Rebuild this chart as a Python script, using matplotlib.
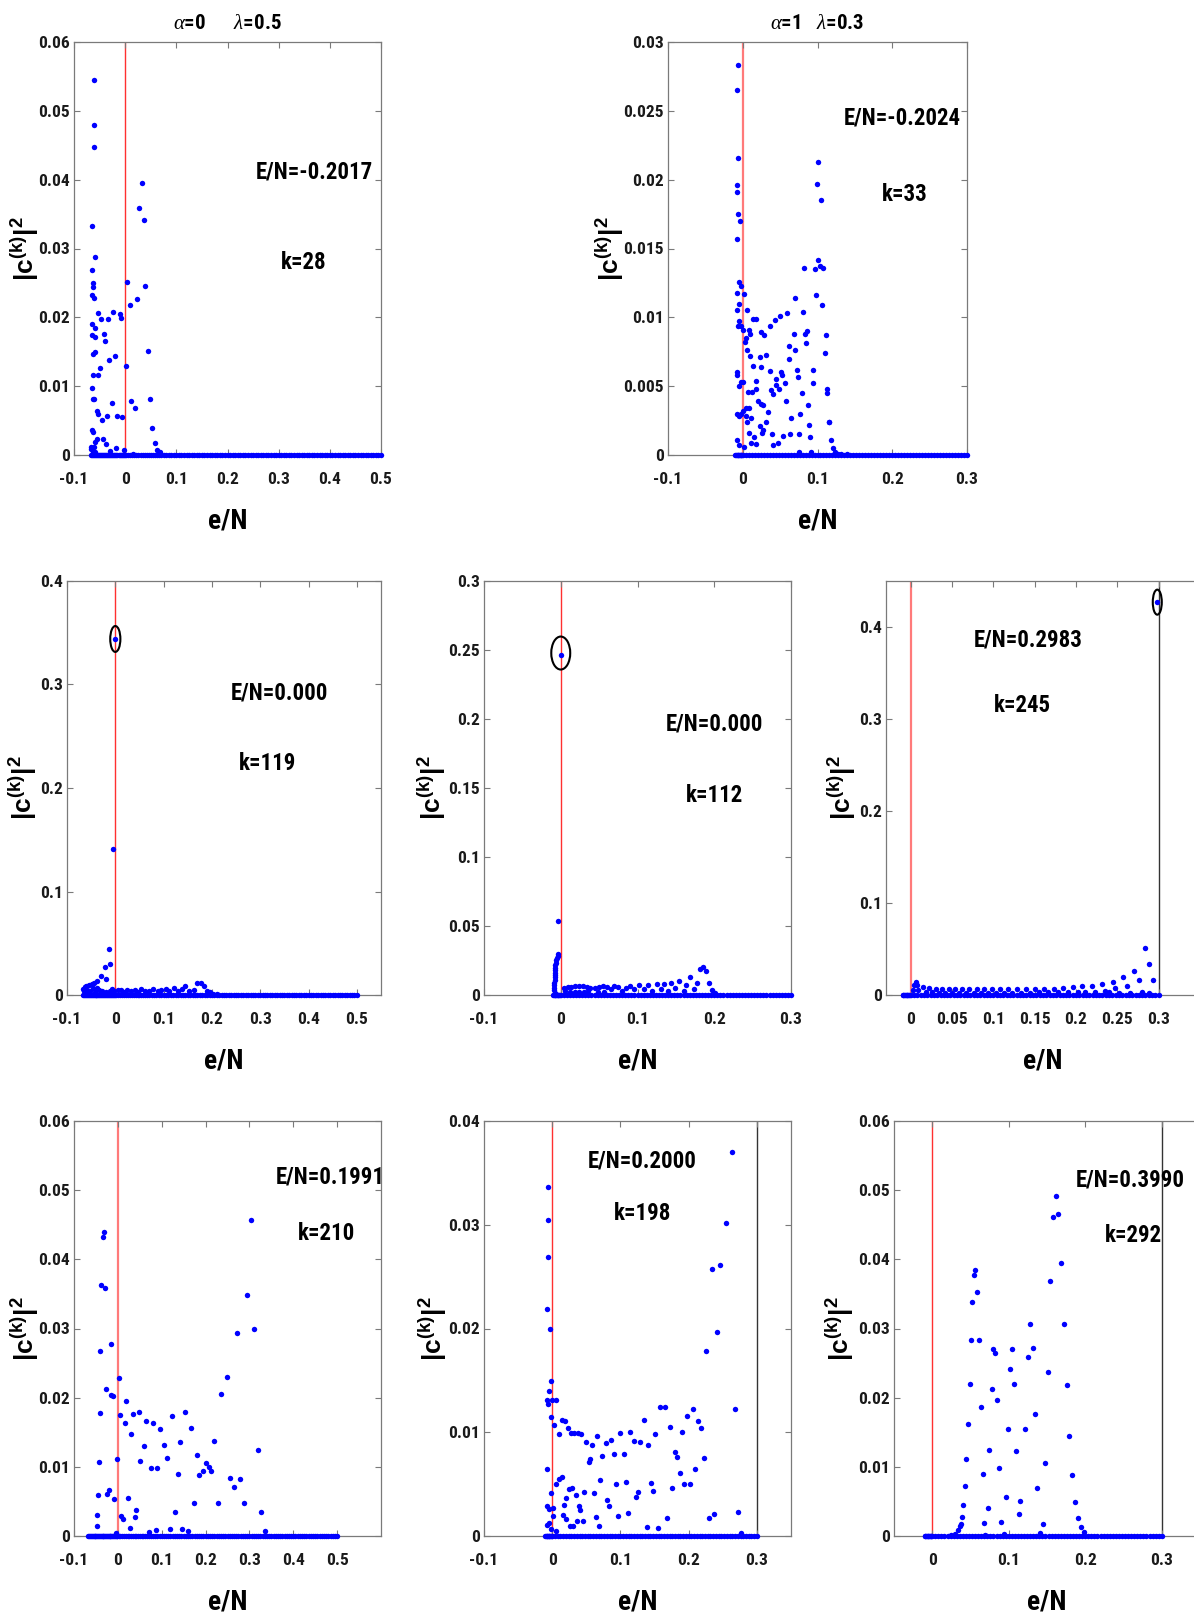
import numpy as np
import matplotlib
matplotlib.use("Agg")
import matplotlib.pyplot as plt
from matplotlib import font_manager
from matplotlib.patches import Ellipse
from matplotlib.ticker import FuncFormatter, FixedLocator

# ---------------------------------------------------------------- fonts
# prefer a narrow sans face; fall back to Liberation Sans with smaller sizes
_entries = font_manager.fontManager.ttflist
_narrow = [f for f in _entries
           if f.stretch in ('condensed', 'semi-condensed', 'extra-condensed')
           and not any(w in f.name for w in ('Mono', 'Serif', 'CJK'))]
_narrow_names = {f.name: f.stretch for f in _narrow}
SANS, STRETCH, SZ = 'Liberation Sans', 'normal', 0.86
for cand in ('Liberation Sans Narrow', 'Roboto Condensed', 'Open Sans Condensed',
             'Noto Sans', 'DejaVu Sans', 'Noto Sans Condensed', 'DejaVu Sans Condensed'):
    if cand in _narrow_names:
        SANS, STRETCH, SZ = cand, _narrow_names[cand], 1.0
        break
else:
    if _narrow_names:
        SANS, STRETCH = next(iter(_narrow_names.items()))
        SZ = 1.0

plt.rcParams['font.family'] = [SANS, 'DejaVu Sans']
plt.rcParams['font.stretch'] = STRETCH
plt.rcParams['mathtext.fontset'] = 'custom'
plt.rcParams['mathtext.rm'] = SANS
# the vertical axis label is the only bold math text; it runs vertically and uses a full-width face
plt.rcParams['mathtext.bf'] = 'Liberation Sans:bold'
plt.rcParams['mathtext.it'] = 'Liberation Serif:italic'

# ---------------------------------------------------------------- data
# unperturbed spectra e/N
levels_a = [-0.067, -0.065, -0.063, -0.061, -0.059, -0.057, -0.055, -0.053, -0.051, -0.049,
            -0.047, -0.045, -0.043, -0.041, -0.039, -0.037, -0.035, -0.033, -0.031, -0.029,
            -0.027, -0.025, -0.023, -0.021, -0.019, -0.017, -0.015, -0.013, -0.011, -0.009,
            -0.007, -0.005, -0.003, -0.001,
            0.002, 0.006, 0.010, 0.014, 0.018, 0.022, 0.026, 0.030, 0.034, 0.038, 0.042, 0.046,
            0.050, 0.054, 0.058, 0.062, 0.066, 0.070, 0.075, 0.080, 0.085, 0.090, 0.095, 0.100,
            0.105, 0.110, 0.115, 0.120, 0.125, 0.130, 0.135, 0.140, 0.145, 0.150, 0.155, 0.160,
            0.165, 0.170, 0.175, 0.180, 0.185, 0.190, 0.195, 0.200, 0.205, 0.210, 0.215, 0.220,
            0.225, 0.230, 0.235, 0.240, 0.245, 0.250, 0.255, 0.260, 0.265, 0.270, 0.275, 0.280,
            0.285, 0.290, 0.295, 0.300, 0.305, 0.310, 0.315, 0.320, 0.325, 0.330, 0.335, 0.340,
            0.345, 0.350, 0.355, 0.360, 0.365, 0.370, 0.375, 0.380, 0.385, 0.390, 0.395, 0.400,
            0.405, 0.410, 0.415, 0.420, 0.425, 0.430, 0.435, 0.440, 0.445, 0.450, 0.455, 0.460,
            0.465, 0.470, 0.475, 0.480, 0.485, 0.490, 0.495, 0.500]
levels_b = [-0.010, -0.009, -0.008, -0.007, -0.006, -0.005, -0.004, -0.003, -0.002, -0.001, 0.000,
            0.004, 0.008, 0.012, 0.016, 0.020, 0.024, 0.028, 0.032, 0.036, 0.040, 0.044, 0.048,
            0.052, 0.056, 0.060, 0.064, 0.068, 0.072, 0.076, 0.080, 0.084, 0.088, 0.092, 0.096,
            0.100, 0.104, 0.108, 0.112, 0.116, 0.120, 0.124, 0.128, 0.132, 0.136, 0.140, 0.144,
            0.148, 0.152, 0.156, 0.160, 0.164, 0.168, 0.172, 0.176, 0.180, 0.184, 0.188, 0.192,
            0.196, 0.200, 0.204, 0.208, 0.212, 0.216, 0.220, 0.224, 0.228, 0.232, 0.236, 0.240,
            0.244, 0.248, 0.252, 0.256, 0.260, 0.264, 0.268, 0.272, 0.276, 0.280, 0.284, 0.288,
            0.292, 0.296, 0.300]

# (e/N, |c^(k)|^2) for the non-negligible components of each eigenstate
k28 = [(-0.060, 0.0545), (-0.061, 0.0479), (-0.060, 0.0448), (-0.064, 0.0332), (-0.065, 0.0269),
       (-0.058, 0.0287), (-0.062, 0.0250), (-0.063, 0.0244), (-0.064, 0.0233), (-0.061, 0.0228),
       (-0.054, 0.0206), (-0.048, 0.0198), (-0.058, 0.0185), (-0.065, 0.0190), (-0.064, 0.0175),
       (-0.058, 0.0171), (-0.063, 0.0147), (-0.058, 0.0149), (-0.062, 0.0116), (-0.053, 0.0116),
       (-0.049, 0.0126), (-0.065, 0.0098), (-0.062, 0.0082), (-0.060, 0.0081), (-0.056, 0.0064),
       (-0.054, 0.0059), (-0.046, 0.0051), (-0.064, 0.0036), (-0.063, 0.0033), (-0.056, 0.0023),
       (-0.058, 0.0019), (-0.044, 0.0023), (-0.037, 0.0016), (-0.066, 0.0012), (-0.060, 0.0012),
       (-0.030, 0.0006), (-0.018, 0.0010), (-0.002, 0.0007), (-0.033, 0.0198), (-0.023, 0.0208),
       (-0.011, 0.0205), (-0.009, 0.0199), (-0.041, 0.0176), (-0.039, 0.0165), (-0.031, 0.0138),
       (-0.020, 0.0144), (-0.026, 0.0075), (-0.036, 0.0057), (-0.015, 0.0056), (-0.006, 0.0055),
       (0.001, 0.0129), (0.004, 0.0252), (0.009, 0.0218), (0.023, 0.0227), (0.012, 0.0079),
       (0.019, 0.0069), (0.027, 0.0359), (0.032, 0.0395), (0.036, 0.0341), (0.039, 0.0245),
       (0.045, 0.0151), (0.049, 0.0082), (0.053, 0.0039), (0.058, 0.0017), (0.063, 0.0007),
       (0.068, 0.0004), (0.016, 0.0002), (-0.066, 0.0008), (-0.063, 0.0005), (-0.059, 0.0004)]

k33 = [(-0.0068, 0.0283), (-0.0073, 0.0265), (-0.0068, 0.0216), (-0.0073, 0.0196), (-0.0073, 0.0191),
       (-0.0064, 0.0175), (-0.0041, 0.0170), (-0.0073, 0.0157), (-0.0050, 0.0126), (-0.0019, 0.0123),
       (-0.0077, 0.0118), (0.0017, 0.0117), (-0.0050, 0.0110), (-0.0073, 0.0105), (0.0052, 0.0105),
       (-0.0046, 0.0097), (-0.0060, 0.0094), (-0.0023, 0.0094), (0.0008, 0.0091), (0.0026, 0.0082),
       (0.0043, 0.0085), (0.0088, 0.0091), (0.0097, 0.0088), (0.0137, 0.0099), (0.0182, 0.0099),
       (0.0052, 0.0076), (0.0092, 0.0072), (0.0142, 0.0065), (-0.0073, 0.0060), (-0.0073, 0.0058),
       (-0.0046, 0.0050), (-0.0019, 0.0053), (0.0008, 0.0053), (0.0066, 0.0046), (0.0128, 0.0046),
       (0.0182, 0.0048), (0.0182, 0.0054), (0.0226, 0.0071), (0.0244, 0.0064), (0.0244, 0.0089),
       (0.0284, 0.0087), (0.0306, 0.0073), (0.0360, 0.0094), (0.0431, 0.0098), (0.0503, 0.0101),
       (0.0592, 0.0103), (0.0369, 0.0061), (0.0440, 0.0055), (0.0382, 0.0047), (0.0409, 0.0044),
       (0.0445, 0.0051), (0.0485, 0.0048), (0.0507, 0.0060), (0.0520, 0.0058), (0.0570, 0.0052),
       (0.0579, 0.0039), (0.0249, 0.0037), (0.0275, 0.0036), (0.0208, 0.0039), (0.0315, 0.0024),
       (0.0338, 0.0031), (0.0226, 0.0021), (0.0258, 0.0016), (0.0266, 0.0018), (0.0039, 0.0034),
       (0.0039, 0.0028), (0.0061, 0.0024), (0.0088, 0.0034), (0.0110, 0.0027), (0.0088, 0.0016),
       (0.0110, 0.0009), (0.0155, 0.0013), (0.0173, 0.0008), (-0.0077, 0.0030), (-0.0046, 0.0028),
       (-0.0019, 0.0030), (0.0008, 0.0032), (-0.0073, 0.0011), (-0.0055, 0.0007), (0.0021, 0.0006),
       (0.0387, 0.0015), (0.0405, 0.0007), (0.0471, 0.0009), (0.0538, 0.0014), (0.0636, 0.0015),
       (0.0748, 0.0015), (0.0650, 0.0027), (0.0623, 0.0070), (0.0618, 0.0079), (0.0681, 0.0088),
       (0.0695, 0.0076), (0.0721, 0.0062), (0.0735, 0.0057), (0.0703, 0.0114), (0.0757, 0.0002),
       (0.0770, 0.0030), (0.0788, 0.0045), (0.0806, 0.0104), (0.0833, 0.0088), (0.0851, 0.0081),
       (0.0855, 0.0090), (0.0873, 0.0036), (0.0886, 0.0022), (0.0904, 0.0013), (0.0908, 0.0002),
       (0.0940, 0.0062), (0.0935, 0.0052), (0.0824, 0.0136), (0.0962, 0.0135), (0.0975, 0.0116),
       (0.0993, 0.0197), (0.1007, 0.0213), (0.1042, 0.0185), (0.1007, 0.0142), (0.1038, 0.0137),
       (0.1070, 0.0136), (0.1060, 0.0109), (0.1109, 0.0087), (0.1096, 0.0074), (0.1131, 0.0048),
       (0.1122, 0.0045), (0.1154, 0.0024), (0.1158, 0.0024), (0.1180, 0.0011), (0.1211, 0.0005),
       (0.1238, 0.0002), (0.1280, 0.0001), (0.1320, 0.0001), (0.1400, 0.0001)]

k119 = [(0.000, 0.344), (-0.004, 0.1407), (-0.014, 0.0448), (-0.010, 0.0300), (-0.022, 0.0274),
        (-0.019, 0.0158), (-0.030, 0.0184), (-0.037, 0.0138), (-0.044, 0.0113), (-0.049, 0.0106),
        (-0.055, 0.0097), (-0.060, 0.0087), (-0.063, 0.0074), (-0.066, 0.0060), (-0.065, 0.0035),
        (-0.062, 0.0080), (-0.058, 0.0050), (-0.053, 0.0040), (-0.047, 0.0065), (-0.043, 0.0030),
        (-0.038, 0.0072), (-0.033, 0.0050), (-0.027, 0.0040), (-0.020, 0.0030), (-0.012, 0.0040),
        (-0.006, 0.0060), (-0.003, 0.0035), (0.005, 0.0045), (0.012, 0.0048), (0.018, 0.0030),
        (0.025, 0.0045), (0.033, 0.0035), (0.040, 0.0045), (0.047, 0.0030), (0.054, 0.0055),
        (0.062, 0.0035), (0.070, 0.0040), (0.079, 0.0055), (0.088, 0.0035), (0.094, 0.0050),
        (0.104, 0.0060), (0.112, 0.0035), (0.121, 0.0064), (0.130, 0.0035), (0.138, 0.0055),
        (0.145, 0.0087), (0.152, 0.0040), (0.163, 0.0048), (0.170, 0.0113), (0.177, 0.0119),
        (0.183, 0.0087), (0.190, 0.0040), (0.196, 0.0026), (0.203, 0.0012), (0.210, 0.0006)]

k112 = [(0.000, 0.2464), (-0.0039, 0.0536),
        (-0.0030, 0.0297), (-0.0040, 0.0285), (-0.0050, 0.0270), (-0.0060, 0.0254), (-0.0066, 0.0235),
        (-0.0070, 0.0217), (-0.0073, 0.0198), (-0.0076, 0.0180), (-0.0078, 0.0162), (-0.0079, 0.0145),
        (-0.0080, 0.0127), (-0.0081, 0.0109), (-0.0082, 0.0090), (-0.0082, 0.0072), (-0.0082, 0.0054),
        (-0.0082, 0.0036), (-0.0080, 0.0018),
        (0.004, 0.0050), (0.009, 0.0055), (0.014, 0.0060), (0.019, 0.0064), (0.024, 0.0066),
        (0.029, 0.0065), (0.034, 0.0060), (0.038, 0.0052), (0.006, 0.0028), (0.012, 0.0024),
        (0.018, 0.0022), (0.024, 0.0022), (0.030, 0.0024), (0.036, 0.0030),
        (0.045, 0.0050), (0.050, 0.0060), (0.055, 0.0062), (0.060, 0.0055), (0.048, 0.0025),
        (0.056, 0.0024), (0.065, 0.0045), (0.070, 0.0065), (0.075, 0.0055), (0.080, 0.0030),
        (0.085, 0.0050), (0.090, 0.0068), (0.096, 0.0045), (0.102, 0.0072), (0.108, 0.0040),
        (0.114, 0.0072), (0.119, 0.0030), (0.125, 0.0080), (0.130, 0.0045), (0.135, 0.0080),
        (0.140, 0.0030), (0.144, 0.0089), (0.149, 0.0050), (0.154, 0.0104), (0.160, 0.0030),
        (0.163, 0.0070), (0.168, 0.0128), (0.173, 0.0040), (0.178, 0.0089), (0.182, 0.0186),
        (0.185, 0.0205), (0.189, 0.0176), (0.193, 0.0085), (0.197, 0.0036), (0.201, 0.0012)]

k245 = [(0.2983, 0.4268), (0.2838, 0.0508), (0.2887, 0.0334), (0.2935, 0.0163), (0.2697, 0.0265),
        (0.2758, 0.0163), (0.2794, 0.0029), (0.2565, 0.0192), (0.2617, 0.0102), (0.2444, 0.0145),
        (0.2476, 0.0080), (0.2315, 0.0120), (0.2351, 0.0040), (0.2194, 0.0102), (0.2230, 0.0035),
        (0.2073, 0.0098), (0.2110, 0.0030), (0.1961, 0.0083), (0.1848, 0.0073), (0.1730, 0.0070),
        (0.1610, 0.0068), (0.1500, 0.0066), (0.1390, 0.0064), (0.1280, 0.0062),
        (0.003, 0.0054), (0.004, 0.0105), (0.006, 0.0140), (0.008, 0.0105), (0.009, 0.0054),
        (0.015, 0.0083), (0.022, 0.0072), (0.030, 0.0062), (0.038, 0.0062), (0.046, 0.0060),
        (0.054, 0.0060), (0.062, 0.0060), (0.071, 0.0060), (0.080, 0.0060), (0.089, 0.0060),
        (0.098, 0.0060), (0.108, 0.0060), (0.118, 0.0062),
        (0.018, 0.0030), (0.026, 0.0028), (0.034, 0.0026), (0.042, 0.0025), (0.050, 0.0025),
        (0.058, 0.0025), (0.067, 0.0025), (0.076, 0.0025), (0.085, 0.0025), (0.094, 0.0025),
        (0.103, 0.0025), (0.113, 0.0025), (0.123, 0.0025), (0.133, 0.0025), (0.144, 0.0025),
        (0.155, 0.0028), (0.166, 0.0030), (0.178, 0.0030), (0.190, 0.0030), (0.202, 0.0030),
        (0.240, 0.0030), (0.252, 0.0025), (0.265, 0.0025), (0.288, 0.0020)]

k210 = [(-0.0326, 0.0440), (-0.0348, 0.0433), (-0.0379, 0.0363), (-0.0303, 0.0359), (-0.0402, 0.0268),
        (-0.0152, 0.0277), (-0.0280, 0.0212), (-0.0167, 0.0204), (-0.0121, 0.0203), (-0.0417, 0.0178),
        (0.0015, 0.0228), (0.0045, 0.0175), (0.0189, 0.0195), (0.0159, 0.0164), (0.0311, 0.0148),
        (0.0348, 0.0176), (0.0485, 0.0179), (-0.0439, 0.0107), (-0.0023, 0.0112), (-0.0455, 0.0059),
        (-0.0205, 0.0067), (-0.0258, 0.0061), (-0.0091, 0.0054), (-0.0477, 0.0030), (-0.0485, 0.0014),
        (0.0083, 0.0029), (0.0114, 0.0024), (0.0227, 0.0055), (0.0273, 0.0012), (0.0386, 0.0028),
        (0.0424, 0.0038), (0.0515, 0.0109), (0.0606, 0.0130), (0.0652, 0.0166), (0.0758, 0.0098),
        (0.0803, 0.0164), (0.0902, 0.0098), (0.0955, 0.0154), (0.1061, 0.0132), (0.1121, 0.0113),
        (0.1242, 0.0174), (0.1295, 0.0035), (0.1364, 0.0090), (0.1417, 0.0136), (0.1538, 0.0180),
        (0.1659, 0.0156), (0.1727, 0.0048), (0.1795, 0.0117), (0.1856, 0.0088), (0.1932, 0.0094),
        (0.2000, 0.0105), (0.2068, 0.0100), (0.2129, 0.0094), (0.2197, 0.0137), (0.2273, 0.0048),
        (0.2348, 0.0206), (0.2492, 0.0230), (0.2561, 0.0084), (0.2644, 0.0071), (0.2720, 0.0293),
        (0.2795, 0.0083), (0.2871, 0.0047), (0.2947, 0.0348), (0.3030, 0.0457), (0.3114, 0.0300),
        (0.3197, 0.0125), (0.3273, 0.0035), (0.3364, 0.0007), (0.118, 0.0010), (0.086, 0.0008),
        (0.147, 0.0010), (0.160, 0.0007), (0.070, 0.0006), (-0.005, 0.0004)]

k198 = [(-0.0064, 0.0336), (-0.0068, 0.0305), (-0.0064, 0.0269), (-0.0073, 0.0219), (-0.0039, 0.0200),
        (-0.0015, 0.0149), (-0.0044, 0.0140), (-0.0073, 0.0131), (-0.0064, 0.0127), (0.0000, 0.0131),
        (0.0054, 0.0131), (-0.0024, 0.0115), (0.0029, 0.0107), (0.0098, 0.0098), (0.0147, 0.0112),
        (0.0181, 0.0111), (0.0225, 0.0104), (0.0269, 0.0099), (0.0322, 0.0099), (0.0371, 0.0099),
        (0.0425, 0.0098), (0.0489, 0.0091), (0.0586, 0.0088), (0.0660, 0.0096), (0.0728, 0.0077),
        (0.0782, 0.0090), (0.0855, 0.0093), (0.0904, 0.0079), (0.0992, 0.0099), (0.1045, 0.0079),
        (0.1133, 0.0100), (0.1197, 0.0092), (0.1280, 0.0091), (0.1343, 0.0112), (0.1407, 0.0088),
        (0.1510, 0.0098), (0.1578, 0.0124), (0.1646, 0.0124), (0.1720, 0.0105), (0.1793, 0.0081),
        (0.1827, 0.0076), (0.1866, 0.0061), (0.1905, 0.0100), (0.1974, 0.0116), (0.2057, 0.0122),
        (0.2130, 0.0111), (0.2179, 0.0104), (0.2218, 0.0075), (0.2257, 0.0178), (0.2335, 0.0257),
        (0.2418, 0.0197), (0.2462, 0.0261), (0.2545, 0.0302), (0.2633, 0.0370), (0.2677, 0.0122),
        (0.2721, 0.0023), (0.2296, 0.0017), (0.2374, 0.0021), (0.2096, 0.0065), (0.1935, 0.0050),
        (0.2013, 0.0050), (0.1754, 0.0046), (0.1681, 0.0017), (0.1544, 0.0008), (0.1446, 0.0051),
        (0.1475, 0.0043), (0.1387, 0.0009), (0.1251, 0.0042), (0.1231, 0.0038), (0.1109, 0.0022),
        (0.1075, 0.0052), (0.0938, 0.0050), (0.0962, 0.0019), (0.0826, 0.0029), (0.0806, 0.0035),
        (0.0703, 0.0054), (0.0684, 0.0010), (0.0645, 0.0018), (0.0616, 0.0041), (0.0537, 0.0071),
        (0.0552, 0.0074), (0.0469, 0.0042), (0.0449, 0.0014), (0.0396, 0.0029), (0.0405, 0.0025),
        (0.0362, 0.0014), (0.0342, 0.0040), (0.0288, 0.0046), (0.0244, 0.0045), (0.0264, 0.0010),
        (0.0303, 0.0010), (0.0195, 0.0037), (0.0166, 0.0030), (0.0151, 0.0020), (0.0205, 0.0016),
        (0.0137, 0.0057), (0.0098, 0.0055), (0.0054, 0.0050), (-0.0020, 0.0041), (0.0010, 0.0027),
        (0.0005, 0.0019), (-0.0078, 0.0065), (-0.0073, 0.0029), (-0.0049, 0.0026), (-0.0073, 0.0011),
        (-0.0054, 0.0013), (-0.0020, 0.0007), (0.0054, 0.0005), (0.2765, 0.0003)]

k292 = [(0.0343, 0.0008), (0.0361, 0.0014), (0.0374, 0.0018), (0.0391, 0.0027), (0.0404, 0.0045),
        (0.0422, 0.0072), (0.0443, 0.0112), (0.0465, 0.0162), (0.0487, 0.0220), (0.0504, 0.0283),
        (0.0526, 0.0339), (0.0543, 0.0377), (0.0565, 0.0385), (0.0587, 0.0353), (0.0613, 0.0283),
        (0.0635, 0.0187), (0.0657, 0.0090), (0.0678, 0.0019), (0.0696, 0.0002), (0.0730, 0.0041),
        (0.0748, 0.0124), (0.0778, 0.0213), (0.0800, 0.0271), (0.0826, 0.0264), (0.0852, 0.0196),
        (0.0878, 0.0098), (0.0904, 0.0020), (0.0935, 0.0003), (0.0961, 0.0057), (0.0987, 0.0154),
        (0.1013, 0.0242), (0.1043, 0.0270), (0.1070, 0.0220), (0.1100, 0.0123), (0.1130, 0.0032),
        (0.1152, 0.0050), (0.1217, 0.0154), (0.1252, 0.0259), (0.1278, 0.0306), (0.1313, 0.0272),
        (0.1343, 0.0177), (0.1374, 0.0070), (0.1409, 0.0005), (0.1443, 0.0018), (0.1474, 0.0106),
        (0.1509, 0.0237), (0.1543, 0.0368), (0.1578, 0.0461), (0.1613, 0.0491), (0.1648, 0.0465),
        (0.1683, 0.0395), (0.1717, 0.0307), (0.1757, 0.0219), (0.1791, 0.0144), (0.1830, 0.0088),
        (0.1865, 0.0049), (0.1904, 0.0026), (0.1939, 0.0013), (0.1978, 0.0006), (0.0300, 0.0003),
        (0.0250, 0.0002)]

# ---------------------------------------------------------------- layout
W, H = 1194, 1613
fig = plt.figure(figsize=(W / 100, H / 100), dpi=100)


def box(l, r, t, b):
    return [l / W, 1 - b / H, (r - l) / W, (b - t) / H]


panels = [
    dict(pts=k28, lv=levels_a, pos=box(74, 381, 42, 455), xlim=(-0.1, 0.5), ylim=(0, 0.06),
         xt=[-0.1, 0, 0.1, 0.2, 0.3, 0.4, 0.5], yt=[0, 0.01, 0.02, 0.03, 0.04, 0.05, 0.06],
         en='E/N=-0.2017', kk='k=28', enp=(0.782, 0.685), kp=(0.749, 0.465), ylx=-0.108,
         title=r'$\alpha$=0      $\lambda$=0.5', soft=False),
    dict(pts=k33, lv=levels_b, pos=box(668, 967, 42, 455), xlim=(-0.1, 0.3), ylim=(0, 0.03),
         xt=[-0.1, 0, 0.1, 0.2, 0.3], yt=[0, 0.005, 0.01, 0.015, 0.02, 0.025, 0.03],
         en='E/N=-0.2024', kk='k=33', enp=(0.783, 0.816), kp=(0.793, 0.630), ylx=-0.140,
         title=r'$\alpha$=1   $\lambda$=0.3', soft=True),
    dict(pts=k119, lv=levels_a, pos=box(67, 381, 581, 995), xlim=(-0.1, 0.55), ylim=(0, 0.4),
         xt=[-0.1, 0, 0.1, 0.2, 0.3, 0.4, 0.5], yt=[0, 0.1, 0.2, 0.3, 0.4],
         en='E/N=0.000', kk='k=119', enp=(0.678, 0.729), kp=(0.640, 0.560), ylx=-0.088,
         ring=(0.000, 0.344, 0.021, 0.025), soft=False),
    dict(pts=k112, lv=levels_b, pos=box(484, 791, 581, 995), xlim=(-0.1, 0.3), ylim=(0, 0.3),
         xt=[-0.1, 0, 0.1, 0.2, 0.3], yt=[0, 0.05, 0.1, 0.15, 0.2, 0.25, 0.3],
         en='E/N=0.000', kk='k=112', enp=(0.752, 0.655), kp=(0.752, 0.483), ylx=-0.116,
         ring=(0.000, 0.2478, 0.0247, 0.0239), soft=False),
    dict(pts=k245, lv=levels_b, pos=box(886, 1200, 581, 995), xlim=(-0.03, 0.35), ylim=(0, 0.45),
         xt=[0, 0.05, 0.1, 0.15, 0.2, 0.25, 0.3], yt=[0, 0.1, 0.2, 0.3, 0.4],
         en='E/N=0.2983', kk='k=245', enp=(0.452, 0.857), kp=(0.433, 0.700), ylx=-0.088,
         ring=(0.2983, 0.427, 0.0109, 0.0272), edge=0.3, soft=True),
    dict(pts=k210, lv=levels_a, pos=box(74, 381, 1121, 1536), xlim=(-0.1, 0.6), ylim=(0, 0.06),
         xt=[-0.1, 0, 0.1, 0.2, 0.3, 0.4, 0.5], yt=[0, 0.01, 0.02, 0.03, 0.04, 0.05, 0.06],
         en='E/N=0.1991', kk='k=210', enp=(0.834, 0.865), kp=(0.821, 0.730), ylx=-0.108, soft=True),
    dict(pts=k198, lv=levels_b, pos=box(484, 791, 1121, 1536), xlim=(-0.1, 0.35), ylim=(0, 0.04),
         xt=[-0.1, 0, 0.1, 0.2, 0.3], yt=[0, 0.01, 0.02, 0.03, 0.04],
         en='E/N=0.2000', kk='k=198', enp=(0.515, 0.904), kp=(0.515, 0.776), ylx=-0.113,
         edge=0.3, soft=False),
    dict(pts=k292, lv=levels_b, pos=box(894, 1200, 1121, 1536), xlim=(-0.05, 0.35), ylim=(0, 0.06),
         xt=[0, 0.1, 0.2, 0.3], yt=[0, 0.01, 0.02, 0.03, 0.04, 0.05, 0.06],
         en='E/N=0.3990', kk='k=292', enp=(0.771, 0.858), kp=(0.781, 0.725), ylx=-0.123,
         edge=0.3, soft=False),
]

BLUE = '#0000ff'
FRAME = '#7a7a7a'
fmt = FuncFormatter(lambda v, _: '0' if abs(v) < 1e-12 else '%g' % v)

for p in panels:
    ax = fig.add_axes(p['pos'])
    ax.set_xlim(*p['xlim'])
    ax.set_ylim(*p['ylim'])

    # reference lines
    if p['soft']:
        ax.axvline(0, color='#ff7a7a', lw=1.6, zorder=1)
    else:
        ax.axvline(0, color='#ff3030', lw=1.0, zorder=1)
    if 'edge' in p:
        ax.axvline(p['edge'], color='#333333', lw=1.0, zorder=1)

    # the unperturbed levels lying on the axis
    lv = np.asarray(p['lv'])
    ax.plot(lv, np.zeros_like(lv), 'o', color=BLUE, ms=3.9, mew=0, clip_on=False, zorder=3)

    pts = np.asarray(p['pts'])
    ax.plot(pts[:, 0], pts[:, 1], 'o', color=BLUE, ms=3.9, mew=0, clip_on=False, zorder=3)

    if 'ring' in p:
        cx, cy, rw, rh = p['ring']
        ax.add_patch(Ellipse((cx, cy), rw, rh, fill=False, ec='black', lw=1.5, zorder=4,
                             clip_on=False))

    # axes decoration
    for s in ax.spines.values():
        s.set_color(FRAME)
        s.set_linewidth(0.9)
    ax.xaxis.set_major_locator(FixedLocator(p['xt']))
    ax.yaxis.set_major_locator(FixedLocator(p['yt']))
    ax.xaxis.set_major_formatter(fmt)
    ax.yaxis.set_major_formatter(fmt)
    ax.tick_params(direction='in', top=True, right=True, length=4, width=0.8, color=FRAME,
                   labelsize=12.5 * SZ, labelcolor='#1a1a1a')
    ax.tick_params(axis='x', pad=12)
    ax.tick_params(axis='y', pad=3)
    for lab in ax.get_xticklabels() + ax.get_yticklabels():
        lab.set_fontweight('bold')

    ax.set_xlabel('e/N', fontsize=20 * SZ, fontweight='bold', labelpad=15)
    ax.set_ylabel(r'$\mathbf{|c^{(k)}|^{2}}$', fontsize=19 * SZ)
    ax.yaxis.set_label_coords(p['ylx'], 0.5)

    ax.text(p['enp'][0], p['enp'][1], p['en'], transform=ax.transAxes, ha='center',
            va='center', fontsize=16.5 * SZ, fontweight='bold', color='black')
    ax.text(p['kp'][0], p['kp'][1], p['kk'], transform=ax.transAxes, ha='center',
            va='center', fontsize=16.5 * SZ, fontweight='bold', color='black')
    if 'title' in p:
        ax.text(0.5, 1.046, p['title'], transform=ax.transAxes, ha='center', va='center',
                fontsize=15 * SZ, fontweight='bold', color='black')

fig.savefig('out.png', dpi=100)
